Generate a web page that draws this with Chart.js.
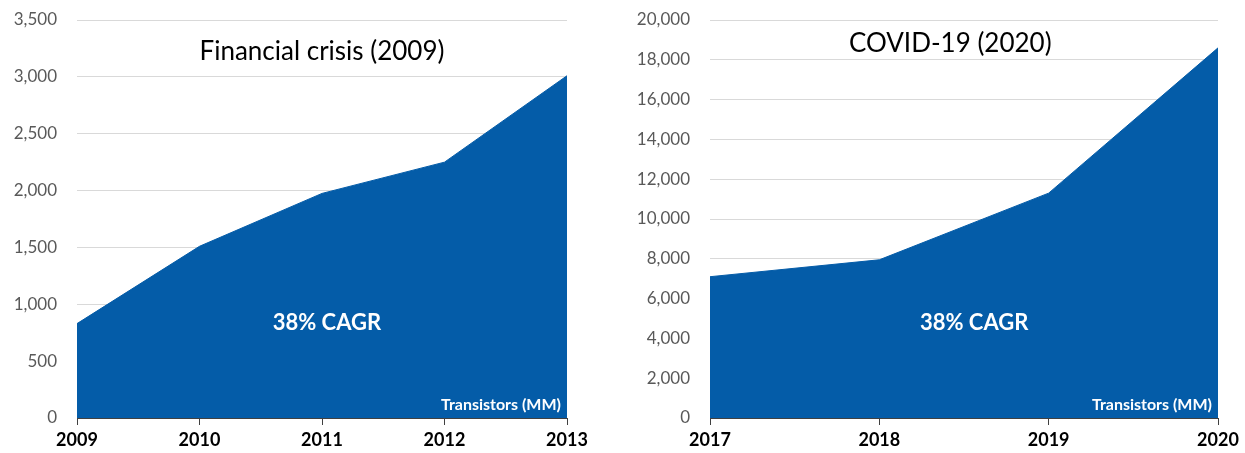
<!DOCTYPE html>
<html>
<head>
<meta charset="utf-8">
<script src="https://cdn.jsdelivr.net/npm/chart.js@4"></script>
<style>
  body { margin: 0; background: #fff; }
  .box { position: absolute; top: 0; height: 453px; }
  #left { left: 0; width: 620px; }
  #right { left: 620px; width: 625px; }
</style>
</head>
<body>
<div class="box" id="left"><canvas id="crisisChart"></canvas></div>
<div class="box" id="right"><canvas id="covidChart"></canvas></div>
<script>
var crisisYears = ['2009', '2010', '2011', '2012', '2013'];
var crisisValues = [830, 1510, 1975, 2250, 3010];
var covidYears = ['2017', '2018', '2019', '2020'];
var covidValues = [7100, 7950, 11300, 18600];

var blue = 'rgb(4, 92, 168)';
var fontFamily = 'Lato, "Open Sans", sans-serif';

// draws the text that sits inside the plot area
var notes = {
  id: 'notes',
  afterDatasetsDraw: function(chart, args, opts) {
    var a = chart.chartArea;
    var ctx = chart.ctx;
    ctx.save();
    ctx.textBaseline = 'middle';
    ctx.textAlign = 'center';
    ctx.fillStyle = '#000';
    ctx.font = '26px ' + fontFamily;
    ctx.fillText(opts.title, a.left + (a.right - a.left) * opts.titleX, a.top + opts.titleY);
    ctx.fillStyle = '#fff';
    ctx.font = 'bold 22px ' + fontFamily;
    ctx.fillText('38% CAGR', a.left + (a.right - a.left) * opts.cagrX, 323);
    ctx.textAlign = 'right';
    ctx.font = 'bold 16px ' + fontFamily;
    ctx.fillText('Transistors (MM)', a.right - 6, a.bottom - 13);
    ctx.restore();
  }
};

function makeChart(id, labels, values, max, step, yWidth, padRight, note) {
  return new Chart(document.getElementById(id), {
    type: 'line',
    data: {
      labels: labels,
      datasets: [{
        data: values,
        fill: 'origin',
        backgroundColor: blue,
        borderColor: blue,
        borderWidth: 1,
        pointRadius: 0,
        tension: 0
      }]
    },
    options: {
      responsive: true,
      maintainAspectRatio: false,
      animation: false,
      layout: { padding: { top: 20, right: padRight, left: 0, bottom: 0 } },
      plugins: {
        legend: { display: false },
        tooltip: { enabled: false },
        notes: note
      },
      scales: {
        x: {
          offset: false,
          grid: { drawOnChartArea: false, drawTicks: true, tickLength: 7, color: '#404040' },
          border: { color: '#404040', width: 1 },
          ticks: { color: '#000', padding: 4, maxRotation: 0, font: { family: fontFamily, size: 18, weight: 'bold' } },
          afterFit: function(s) { s.height = 35; s.paddingLeft = 0; s.paddingRight = 0; }
        },
        y: {
          min: 0,
          max: max,
          grid: { color: '#d9d9d9', drawTicks: false },
          border: { display: false },
          ticks: {
            stepSize: step,
            color: '#595959',
            padding: 20,
            font: { family: fontFamily, size: 17 },
            callback: function(v) { return v.toLocaleString('en-US'); }
          },
          afterFit: function(s) { s.width = yWidth; s.paddingTop = 0; s.paddingBottom = 0; }
        }
      }
    },
    plugins: [notes]
  });
}

makeChart('crisisChart', crisisYears, crisisValues, 3500, 500, 77, 53,
  { title: 'Financial crisis (2009)', titleX: 0.5, titleY: 32, cagrX: 0.51 });
makeChart('covidChart', covidYears, covidValues, 20000, 2000, 90, 27,
  { title: 'COVID-19 (2020)', titleX: 0.473, titleY: 24, cagrX: 0.52 });
</script>
</body>
</html>
